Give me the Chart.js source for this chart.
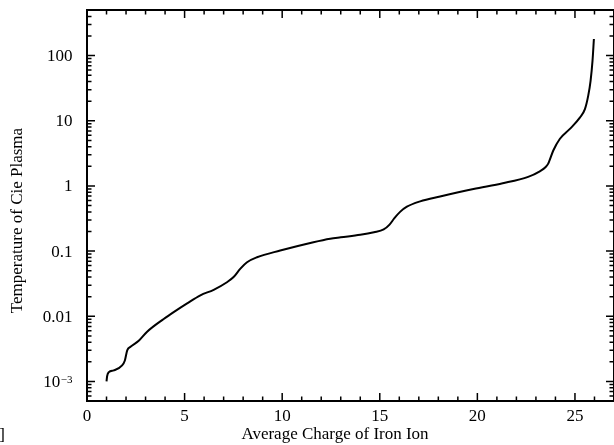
<!DOCTYPE html>
<html><head><meta charset="utf-8">
<script src="https://cdn.jsdelivr.net/npm/chart.js@4.4.1/dist/chart.umd.min.js"></script>
<style>html,body{margin:0;padding:0;background:#fff;} #wrap{width:614px;height:445px;}</style>
</head><body><div id="wrap"><canvas id="c" width="614" height="445"></canvas></div>
<script>
// ---- data ----
const charge = [1.00, 1.03, 1.12, 1.37, 1.80, 1.94, 2.06, 2.23, 2.65, 3.08, 3.93, 4.44, 5.13, 5.81, 6.49, 7.17, 7.51, 7.86, 8.20, 8.71, 9.90, 11.6, 12.46, 13.0, 14.0, 14.7, 15.2, 15.5, 15.75, 16.04, 16.39, 17.07, 18.09, 19.8, 21.3, 22.6, 23.2, 23.5, 23.63, 23.89, 24.23, 24.74, 25.26, 25.51, 25.68, 25.80, 25.90, 25.97];
const temperature = [1.0e-3, 1.2e-3, 1.39e-3, 1.48e-3, 1.76e-3, 2.1e-3, 3.0e-3, 3.4e-3, 4.2e-3, 5.8e-3, 9.1e-3, 0.0116, 0.0158, 0.021, 0.0255, 0.0333, 0.040, 0.054, 0.0675, 0.0805, 0.102, 0.137, 0.155, 0.163, 0.178, 0.195, 0.215, 0.255, 0.32, 0.40, 0.48, 0.58, 0.69, 0.90, 1.10, 1.38, 1.68, 1.95, 2.2, 3.5, 5.3, 7.5, 11.3, 15.1, 24.3, 41, 84, 180];
const xTickValues = [0, 5, 10, 15, 20, 25];
const xTickLabels = ['0', '5', '10', '15', '20', '25'];
const yTickValues = [1e-3, 0.01, 0.1, 1, 10, 100];
const yTickLabels = ['10^\u22123', '0.01', '0.1', '1', '10', '100'];
const xTitle = 'Average Charge of Iron Ion';
const yTitle = 'Temperature of Cie Plasma';

const FONT = '"Liberation Serif", "Times New Roman", serif';

const framePlugin = {
  id: 'frame',
  afterDraw(chart) {
    const ctx = chart.ctx, a = chart.chartArea;
    const xs = chart.scales.x, ys = chart.scales.y;
    ctx.save();
    ctx.strokeStyle = '#000';
    ctx.fillStyle = '#000';
    // frame
    ctx.lineWidth = 2;
    ctx.strokeRect(a.left, a.top, a.right - a.left, a.bottom - a.top);
    // x ticks (inward, bottom + top)
    ctx.lineWidth = 1.5;
    for (let v = 0; v <= xs.max; v++) {
      const px = xs.getPixelForValue(v);
      if (px <= a.left + 1 || px >= a.right - 1) continue;
      const len = (v % 5 === 0) ? 8 : 4.5;
      ctx.beginPath();
      ctx.moveTo(px, a.bottom); ctx.lineTo(px, a.bottom - len);
      ctx.moveTo(px, a.top); ctx.lineTo(px, a.top + len);
      ctx.stroke();
    }
    // y ticks (log, inward, left + right)
    const e0 = Math.floor(Math.log10(ys.min)), e1 = Math.ceil(Math.log10(ys.max));
    for (let e = e0; e <= e1; e++) {
      for (let k = 1; k <= 9; k++) {
        const v = k * Math.pow(10, e);
        if (v < ys.min || v > ys.max) continue;
        const py = ys.getPixelForValue(v);
        if (py <= a.top + 1.5 || py >= a.bottom - 1.5) continue;
        const len = (k === 1) ? 8 : 4.5;
        ctx.beginPath();
        ctx.moveTo(a.left, py); ctx.lineTo(a.left + len, py);
        ctx.moveTo(a.right, py); ctx.lineTo(a.right - len, py);
        ctx.stroke();
      }
    }
    // x tick labels
    ctx.font = '17px ' + FONT;
    ctx.textAlign = 'center';
    ctx.textBaseline = 'alphabetic';
    xTickValues.forEach((v, i) => {
      ctx.fillText(xTickLabels[i], xs.getPixelForValue(v), 420.5);
    });
    // y tick labels (right aligned)
    const rx = 72.5;
    yTickValues.forEach((v, i) => {
      const py = ys.getPixelForValue(v);
      const lab = yTickLabels[i];
      const base = py + 5.5;
      if (lab.indexOf('^') >= 0) {
        const [b, s] = lab.split('^');
        ctx.font = '11px ' + FONT;
        const ws = ctx.measureText(s).width;
        ctx.textAlign = 'right';
        ctx.fillText(s, rx, base - 3.5);
        ctx.font = '17px ' + FONT;
        ctx.fillText(b, rx - ws - 0.5, base);
      } else {
        ctx.font = '17px ' + FONT;
        ctx.textAlign = 'right';
        ctx.fillText(lab, rx, base);
      }
    });
    // axis titles
    ctx.font = '17px ' + FONT;
    ctx.textAlign = 'center';
    ctx.fillText(xTitle, 335, 438.5);
    ctx.save();
    ctx.translate(22, 220.5);
    ctx.rotate(-Math.PI / 2);
    ctx.fillText(yTitle, 0, 0);
    ctx.restore();
    // clipped bracket at the bottom-left corner
    ctx.font = '17px ' + FONT;
    ctx.textAlign = 'right';
    ctx.fillText(']', 5, 440);
    ctx.restore();
  }
};

new Chart(document.getElementById('c').getContext('2d'), {
  type: 'line',
  data: {
    datasets: [{
      data: charge.map((x, i) => ({ x: x, y: temperature[i] })),
      borderColor: '#000',
      borderWidth: 2,
      pointRadius: 0,
      cubicInterpolationMode: 'monotone',
      fill: false
    }]
  },
  options: {
    responsive: false,
    animation: false,
    events: [],
    layout: { padding: { top: 10, right: 0, bottom: 0, left: 0 } },
    plugins: { legend: { display: false }, tooltip: { enabled: false } },
    scales: {
      x: {
        type: 'linear', min: 0, max: 27,
        grid: { display: false }, border: { display: false }, ticks: { display: false },
        afterFit(s) { s.height = 44; }
      },
      y: {
        type: 'logarithmic', min: Math.pow(10, -3.3), max: Math.pow(10, 2.7),
        grid: { display: false }, border: { display: false }, ticks: { display: false },
        afterFit(s) { s.width = 87; }
      }
    }
  },
  plugins: [framePlugin]
});
</script>
</body></html>
